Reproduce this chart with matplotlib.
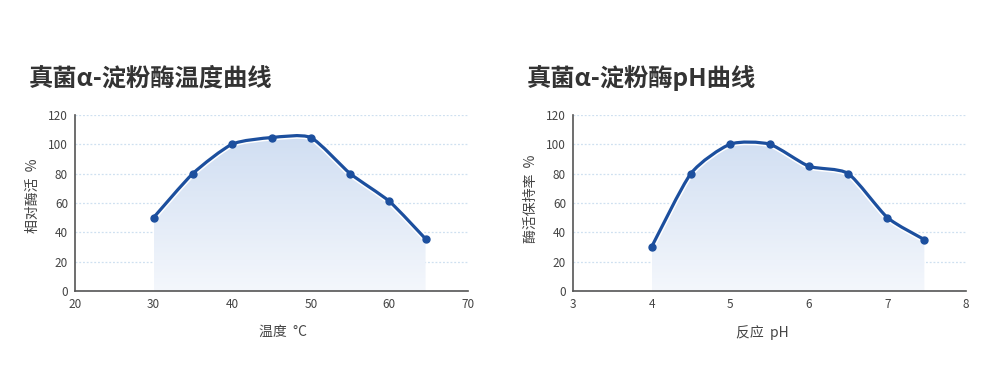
import matplotlib
matplotlib.use("Agg")
import matplotlib.pyplot as plt
import numpy as np
from matplotlib.path import Path
from matplotlib.patches import PathPatch
from matplotlib.colors import LinearSegmentedColormap

plt.rcParams['font.family'] = ['Noto Sans CJK SC', 'DejaVu Sans']

# temperature curve
temp_x = [30, 35, 40, 45, 50, 55, 60, 64.6]
temp_y = [50, 80, 100, 104.5, 104.5, 80, 61, 35.5]

# pH curve
ph_x = [4, 4.5, 5, 5.5, 6, 6.5, 7, 7.47]
ph_y = [30, 80, 100, 100, 85, 80, 50, 35]

titles = ["真菌α-淀粉酶温度曲线", "真菌α-淀粉酶pH曲线"]
xlabels = ["温度  °C", "反应  pH"]
ylabels = ["相对酶活  %", "酶活保持率  %"]
yticks = [0, 20, 40, 60, 80, 100, 120]

LINE = '#1c4f9e'
TEXT = '#444444'


def smooth_verts(xs, ys, t=0.11):
    pts = np.column_stack([xs, ys]).astype(float)
    n = len(pts)
    verts = [pts[0]]
    codes = [Path.MOVETO]
    for i in range(n - 1):
        p0 = pts[i - 1] if i > 0 else pts[i]
        p1 = pts[i]
        p2 = pts[i + 1]
        p3 = pts[i + 2] if i + 2 < n else pts[i + 1]
        c1 = p1 + (p2 - p0) * t
        c2 = p2 - (p3 - p1) * t
        verts += [c1, c2, p2]
        codes += [Path.CURVE4] * 3
    return verts, codes


def draw(ax, xs, ys, xlim, xticks, xlabel, ylabel, xl_pos, yl_pos):
    verts, codes = smooth_verts(xs, ys)
    line = Path(verts, codes)
    # area under the curve
    fverts = verts + [(xs[-1], 0), (xs[0], 0), verts[0]]
    fcodes = codes + [Path.LINETO, Path.LINETO, Path.CLOSEPOLY]
    area = PathPatch(Path(fverts, fcodes), facecolor='none', edgecolor='none')
    ax.add_patch(area)
    cmap = LinearSegmentedColormap.from_list('g', ['#f4f7fc', '#d0def2'])
    grad = np.linspace(0, 1, 256).reshape(-1, 1)
    im = ax.imshow(grad, cmap=cmap, origin='lower', aspect='auto',
                   extent=[xs[0], xs[-1], 0, 106], zorder=1)
    im.set_clip_path(area)
    ax.add_patch(PathPatch(line, facecolor='none', edgecolor='white', lw=4.5, zorder=2))
    ax.add_patch(PathPatch(line, facecolor='none', edgecolor=LINE, lw=2.3, zorder=3))
    ax.plot(xs, ys, 'o', color=LINE, ms=5, zorder=4)

    ax.set_xlim(*xlim)
    ax.set_ylim(0, 120)
    ax.set_xticks(xticks)
    ax.set_yticks(yticks)
    ax.grid(axis='y', color='#cfe0f0', ls=(0, (1.5, 1.5)), lw=0.9, zorder=0)
    ax.set_axisbelow(True)
    for s in ['top', 'right']:
        ax.spines[s].set_visible(False)
    for s in ['left', 'bottom']:
        ax.spines[s].set_color('#555555')
        ax.spines[s].set_linewidth(1.2)
    ax.tick_params(length=0, labelsize=8.5, colors=TEXT, pad=5)
    ax.set_xlabel(xlabel, fontsize=10, color=TEXT)
    ax.set_ylabel(ylabel, fontsize=10, color=TEXT)
    ax.xaxis.set_label_coords(xl_pos, -0.195)
    ax.yaxis.set_label_coords(-0.088, yl_pos)


fig = plt.figure(figsize=(10, 3.74), dpi=100)
ax1 = fig.add_axes([0.075, 0.222, 0.393, 0.471])
ax2 = fig.add_axes([0.573, 0.222, 0.393, 0.471])

draw(ax1, temp_x, temp_y, (20, 70), [20, 30, 40, 50, 60, 70],
     xlabels[0], ylabels[0], 0.53, 0.54)
draw(ax2, ph_x, ph_y, (3, 8), [3, 4, 5, 6, 7, 8],
     xlabels[1], ylabels[1], 0.482, 0.525)

fig.text(0.029, 1 - 78 / 374, titles[0], fontsize=17.5, weight='bold',
         color='#333333', va='center', ha='left')
fig.text(0.527, 1 - 78 / 374, titles[1], fontsize=17.5, weight='bold',
         color='#333333', va='center', ha='left')

fig.savefig('out.png', dpi=100, facecolor='white')
